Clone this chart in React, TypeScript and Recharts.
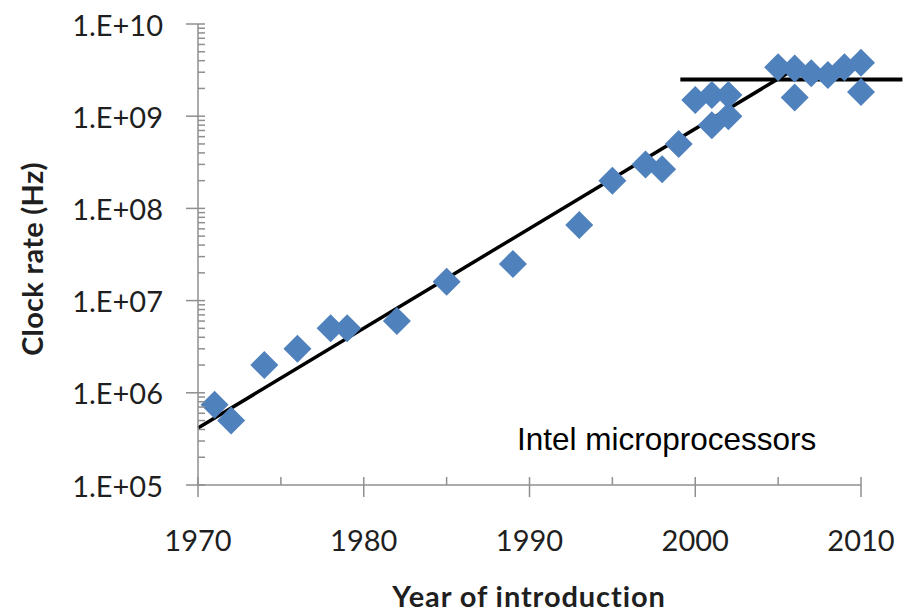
import React from 'react';
import { ScatterChart, Scatter, XAxis, YAxis, ReferenceLine } from 'recharts';

// Intel microprocessors: year of introduction and clock rate (Hz)
const years = [
  1971, 1972, 1974, 1976, 1978, 1979, 1982, 1985, 1989, 1993, 1995, 1997, 1998, 1999,
  2000, 2001, 2001, 2002, 2002, 2005, 2006, 2006, 2007, 2008, 2009, 2010, 2010,
];
const clockHz = [
  7.4e5, 5e5, 2e6, 3e6, 5e6, 5e6, 6e6, 1.6e7, 2.5e7, 6.6e7, 2e8, 3e8, 2.66e8, 5e8,
  1.5e9, 1.7e9, 8e8, 1.7e9, 1e9, 3.4e9, 3.3e9, 1.6e9, 2.93e9, 2.8e9, 3.4e9, 3.8e9, 1.83e9,
];

// Exponential trend and the plateau level
const trendStart = { year: 1970, hz: 4.15e5 };
const trendEnd = { year: 2005.8, hz: 3.1e9 };
const plateau = { from: 1999.1, to: 2012.5, hz: 2.5e9 };

// Axis ticks
const xTicks = [1970, 1975, 1980, 1985, 1990, 1995, 2000, 2005, 2010];
const decadeExponents = [5, 6, 7, 8, 9];
const yTicks = [
  ...decadeExponents.flatMap((e) => [1, 2, 3, 4, 5, 6, 7, 8, 9].map((m) => m * 10 ** e)),
  1e10,
];

const data = years.map((year, i) => ({ year, hz: clockHz[i] }));

const AXIS = '#8f8f8f';
const TEXT = '#1f1f1f';
const BLUE = '#4f81bd';
const TICK_FONT = 'Lato, "Open Sans", sans-serif';

const sciLabel = (v: number) => {
  const e = Math.round(Math.log10(v));
  return `1.E+${String(e).padStart(2, '0')}`;
};

const YTick = (props: any) => {
  const { x, y, payload } = props;
  const v = payload.value as number;
  const e = Math.round(Math.log10(v));
  const major = Math.abs(v - 10 ** e) < 1e-6 * v;
  if (!major) {
    return <line x1={x} x2={x + 7} y1={y} y2={y} stroke={AXIS} strokeWidth={1.5} />;
  }
  return (
    <g>
      <line x1={x - 12} x2={x + 7} y1={y} y2={y} stroke={AXIS} strokeWidth={1.5} />
      <text
        x={x - 35}
        y={y}
        textAnchor="end"
        dominantBaseline="central"
        fontFamily={TICK_FONT}
        fontSize={29}
        fill={TEXT}
      >
        {sciLabel(v)}
      </text>
    </g>
  );
};

const XTick = (props: any) => {
  const { x, y, payload } = props;
  const v = payload.value as number;
  const major = v % 10 === 0;
  if (!major) {
    return <line x1={x} x2={x} y1={y - 8} y2={y} stroke={AXIS} strokeWidth={1.5} />;
  }
  return (
    <g>
      <line x1={x} x2={x} y1={y - 8} y2={y + 12} stroke={AXIS} strokeWidth={1.5} />
      <text
        x={x}
        y={y + 54}
        textAnchor="middle"
        dominantBaseline="central"
        fontFamily={TICK_FONT}
        fontSize={29}
        fill={TEXT}
      >
        {v}
      </text>
    </g>
  );
};

const Diamond = (props: any) => {
  const { cx, cy } = props;
  const r = 14;
  return (
    <polygon
      points={`${cx},${cy - r} ${cx + r},${cy} ${cx},${cy + r} ${cx - r},${cy}`}
      fill={BLUE}
    />
  );
};

const XTitle = () => (
  <text
    x={529}
    y={607}
    textAnchor="middle"
    fontFamily={TICK_FONT}
    fontWeight={700}
    fontSize={29}
    letterSpacing={0.9}
    fill={TEXT}
  >
    Year of introduction
  </text>
);

const YTitle = () => (
  <text
    x={43}
    y={259}
    transform="rotate(-90 43 259)"
    textAnchor="middle"
    fontFamily={TICK_FONT}
    fontWeight={700}
    fontSize={29}
    letterSpacing={0.3}
    fill={TEXT}
  >
    Clock rate (Hz)
  </text>
);

export default function App() {
  return (
    <div style={{ position: 'absolute', left: 0, top: 0, width: 909, height: 614, background: '#fff' }}>
      <ScatterChart width={909} height={614} margin={{ top: 24, right: 48, left: 0, bottom: 0 }}>
        <XAxis
          type="number"
          dataKey="year"
          domain={[1970, 2010]}
          ticks={xTicks}
          interval={0}
          height={129}
          tickSize={0}
          tickMargin={0}
          tickLine={false}
          axisLine={{ stroke: AXIS, strokeWidth: 1.5 }}
          tick={<XTick />}
          label={<XTitle />}
        />
        <YAxis
          type="number"
          dataKey="hz"
          scale="log"
          domain={[1e5, 1e10]}
          allowDataOverflow
          ticks={yTicks}
          interval={0}
          width={198}
          tickSize={0}
          tickMargin={0}
          tickLine={false}
          axisLine={{ stroke: AXIS, strokeWidth: 1.5 }}
          tick={<YTick />}
          label={<YTitle />}
        />
        <Scatter data={data} shape={<Diamond />} isAnimationActive={false} />
        <ReferenceLine
          segment={[
            { x: trendStart.year, y: trendStart.hz },
            { x: trendEnd.year, y: trendEnd.hz },
          ]}
          stroke="#000"
          strokeWidth={3.5}
          ifOverflow="visible"
        />
        <ReferenceLine
          segment={[
            { x: plateau.from, y: plateau.hz },
            { x: plateau.to, y: plateau.hz },
          ]}
          stroke="#000"
          strokeWidth={4}
          ifOverflow="visible"
        />
      </ScatterChart>
      <svg
        width={909}
        height={614}
        style={{ position: 'absolute', left: 0, top: 0, pointerEvents: 'none' }}
      >
        <text
          x={517}
          y={450}
          fontFamily='"Liberation Sans", Arial, sans-serif'
          fontSize={31.5}
          fill="#000"
        >
          Intel microprocessors
        </text>
      </svg>
    </div>
  );
}
